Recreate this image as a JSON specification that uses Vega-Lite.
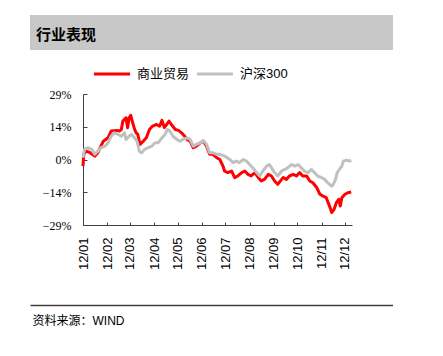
{
  "$schema": "https://vega.github.io/schema/vega-lite/v6.json",
  "background": "white",
  "padding": {"left": 30, "top": 15, "right": 0, "bottom": 0},
  "config": {
    "view": {"stroke": null},
    "axis": {"domainColor": "#404040", "tickColor": "#404040", "grid": false, "labelColor": "#000000", "titleColor": "#000000"}
  },
  "spacing": 4,
  "resolve": {"scale": {"color": "independent", "x": "independent", "y": "independent"}},
  "vconcat": [
    {
      "width": 363,
      "height": 35,
      "view": {"fill": "#c8c8c8", "stroke": null},
      "data": {"values": [{"label": "行业表现"}]},
      "mark": {"type": "text", "align": "left", "baseline": "middle", "dx": 6, "dy": 2, "font": "Noto Sans CJK SC", "fontSize": 15, "fontWeight": "bold", "color": "#000000"},
      "encoding": {
        "x": {"datum": 0, "type": "quantitative", "scale": {"domain": [0, 1]}, "axis": null},
        "text": {"field": "label"}
      }
    },
    {
      "hconcat": [
        {
          "width": 53,
          "height": 131,
          "data": {"values": []},
          "mark": "point"
        },
        {
          "width": 269,
          "height": 131,
          "data": {"values": [
            {"date": "2012-01-01", "s": "商业贸易", "v": -2.9},
            {"date": "2012-01-02", "s": "商业贸易", "v": 2.3},
            {"date": "2012-01-05", "s": "商业贸易", "v": 3.7},
            {"date": "2012-01-10", "s": "商业贸易", "v": 3.0},
            {"date": "2012-01-16", "s": "商业贸易", "v": 1.5},
            {"date": "2012-01-20", "s": "商业贸易", "v": 3.0},
            {"date": "2012-01-27", "s": "商业贸易", "v": 8.1},
            {"date": "2012-02-02", "s": "商业贸易", "v": 9.6},
            {"date": "2012-02-06", "s": "商业贸易", "v": 12.6},
            {"date": "2012-02-13", "s": "商业贸易", "v": 12.9},
            {"date": "2012-02-17", "s": "商业贸易", "v": 12.6},
            {"date": "2012-02-19", "s": "商业贸易", "v": 13.3},
            {"date": "2012-02-21", "s": "商业贸易", "v": 17.0},
            {"date": "2012-02-25", "s": "商业贸易", "v": 18.5},
            {"date": "2012-02-27", "s": "商业贸易", "v": 14.1},
            {"date": "2012-02-29", "s": "商业贸易", "v": 18.5},
            {"date": "2012-03-02", "s": "商业贸易", "v": 19.6},
            {"date": "2012-03-04", "s": "商业贸易", "v": 17.0},
            {"date": "2012-03-07", "s": "商业贸易", "v": 13.3},
            {"date": "2012-03-09", "s": "商业贸易", "v": 11.8},
            {"date": "2012-03-11", "s": "商业贸易", "v": 11.1},
            {"date": "2012-03-14", "s": "商业贸易", "v": 6.7},
            {"date": "2012-03-18", "s": "商业贸易", "v": 8.1},
            {"date": "2012-03-22", "s": "商业贸易", "v": 9.6},
            {"date": "2012-03-26", "s": "商业贸易", "v": 13.3},
            {"date": "2012-03-30", "s": "商业贸易", "v": 14.8},
            {"date": "2012-04-04", "s": "商业贸易", "v": 15.5},
            {"date": "2012-04-08", "s": "商业贸易", "v": 14.8},
            {"date": "2012-04-11", "s": "商业贸易", "v": 17.3},
            {"date": "2012-04-14", "s": "商业贸易", "v": 14.1},
            {"date": "2012-04-17", "s": "商业贸易", "v": 15.5},
            {"date": "2012-04-20", "s": "商业贸易", "v": 17.0},
            {"date": "2012-04-23", "s": "商业贸易", "v": 15.5},
            {"date": "2012-04-28", "s": "商业贸易", "v": 13.3},
            {"date": "2012-05-02", "s": "商业贸易", "v": 12.9},
            {"date": "2012-05-06", "s": "商业贸易", "v": 11.8},
            {"date": "2012-05-10", "s": "商业贸易", "v": 10.3},
            {"date": "2012-05-13", "s": "商业贸易", "v": 8.9},
            {"date": "2012-05-17", "s": "商业贸易", "v": 8.1},
            {"date": "2012-05-21", "s": "商业贸易", "v": 5.2},
            {"date": "2012-05-25", "s": "商业贸易", "v": 5.9},
            {"date": "2012-05-30", "s": "商业贸易", "v": 7.4},
            {"date": "2012-06-03", "s": "商业贸易", "v": 8.1},
            {"date": "2012-06-07", "s": "商业贸易", "v": 5.9},
            {"date": "2012-06-11", "s": "商业贸易", "v": 2.3},
            {"date": "2012-06-15", "s": "商业贸易", "v": 2.3},
            {"date": "2012-06-20", "s": "商业贸易", "v": 0.8},
            {"date": "2012-06-24", "s": "商业贸易", "v": 0.0},
            {"date": "2012-06-28", "s": "商业贸易", "v": -2.9},
            {"date": "2012-06-30", "s": "商业贸易", "v": -5.1},
            {"date": "2012-07-04", "s": "商业贸易", "v": -5.8},
            {"date": "2012-07-09", "s": "商业贸易", "v": -5.1},
            {"date": "2012-07-13", "s": "商业贸易", "v": -8.0},
            {"date": "2012-07-17", "s": "商业贸易", "v": -7.3},
            {"date": "2012-07-22", "s": "商业贸易", "v": -5.8},
            {"date": "2012-07-26", "s": "商业贸易", "v": -5.1},
            {"date": "2012-07-30", "s": "商业贸易", "v": -6.6},
            {"date": "2012-08-03", "s": "商业贸易", "v": -7.3},
            {"date": "2012-08-08", "s": "商业贸易", "v": -5.8},
            {"date": "2012-08-12", "s": "商业贸易", "v": -8.0},
            {"date": "2012-08-16", "s": "商业贸易", "v": -9.5},
            {"date": "2012-08-20", "s": "商业贸易", "v": -8.8},
            {"date": "2012-08-25", "s": "商业贸易", "v": -6.6},
            {"date": "2012-08-29", "s": "商业贸易", "v": -7.3},
            {"date": "2012-09-02", "s": "商业贸易", "v": -9.5},
            {"date": "2012-09-06", "s": "商业贸易", "v": -11.0},
            {"date": "2012-09-11", "s": "商业贸易", "v": -8.8},
            {"date": "2012-09-13", "s": "商业贸易", "v": -8.0},
            {"date": "2012-09-17", "s": "商业贸易", "v": -8.8},
            {"date": "2012-09-21", "s": "商业贸易", "v": -7.3},
            {"date": "2012-09-26", "s": "商业贸易", "v": -6.6},
            {"date": "2012-09-30", "s": "商业贸易", "v": -7.3},
            {"date": "2012-10-04", "s": "商业贸易", "v": -5.8},
            {"date": "2012-10-08", "s": "商业贸易", "v": -7.3},
            {"date": "2012-10-13", "s": "商业贸易", "v": -7.3},
            {"date": "2012-10-17", "s": "商业贸易", "v": -9.5},
            {"date": "2012-10-21", "s": "商业贸易", "v": -10.3},
            {"date": "2012-10-26", "s": "商业贸易", "v": -12.5},
            {"date": "2012-10-30", "s": "商业贸易", "v": -15.4},
            {"date": "2012-11-03", "s": "商业贸易", "v": -16.2},
            {"date": "2012-11-07", "s": "商业贸易", "v": -16.9},
            {"date": "2012-11-12", "s": "商业贸易", "v": -21.3},
            {"date": "2012-11-14", "s": "商业贸易", "v": -23.5},
            {"date": "2012-11-17", "s": "商业贸易", "v": -22.1},
            {"date": "2012-11-20", "s": "商业贸易", "v": -19.1},
            {"date": "2012-11-23", "s": "商业贸易", "v": -17.6},
            {"date": "2012-11-25", "s": "商业贸易", "v": -20.6},
            {"date": "2012-11-27", "s": "商业贸易", "v": -16.9},
            {"date": "2012-12-01", "s": "商业贸易", "v": -15.4},
            {"date": "2012-12-05", "s": "商业贸易", "v": -14.7},
            {"date": "2012-12-09", "s": "商业贸易", "v": -14.4},
            {"date": "2012-01-01", "s": "沪深300", "v": 0.8},
            {"date": "2012-01-03", "s": "沪深300", "v": 4.5},
            {"date": "2012-01-07", "s": "沪深300", "v": 5.2},
            {"date": "2012-01-12", "s": "沪深300", "v": 4.5},
            {"date": "2012-01-16", "s": "沪深300", "v": 2.3},
            {"date": "2012-01-20", "s": "沪深300", "v": 3.7},
            {"date": "2012-01-24", "s": "沪深300", "v": 5.2},
            {"date": "2012-01-29", "s": "沪深300", "v": 5.9},
            {"date": "2012-02-02", "s": "沪深300", "v": 7.4},
            {"date": "2012-02-06", "s": "沪深300", "v": 10.3},
            {"date": "2012-02-10", "s": "沪深300", "v": 11.8},
            {"date": "2012-02-15", "s": "沪深300", "v": 11.1},
            {"date": "2012-02-19", "s": "沪深300", "v": 10.3},
            {"date": "2012-02-23", "s": "沪深300", "v": 11.8},
            {"date": "2012-02-25", "s": "沪深300", "v": 8.9},
            {"date": "2012-02-29", "s": "沪深300", "v": 10.3},
            {"date": "2012-03-03", "s": "沪深300", "v": 11.1},
            {"date": "2012-03-07", "s": "沪深300", "v": 9.6},
            {"date": "2012-03-10", "s": "沪深300", "v": 8.1},
            {"date": "2012-03-13", "s": "沪深300", "v": 3.7},
            {"date": "2012-03-16", "s": "沪深300", "v": 3.0},
            {"date": "2012-03-20", "s": "沪深300", "v": 4.5},
            {"date": "2012-03-24", "s": "沪深300", "v": 5.2},
            {"date": "2012-03-29", "s": "沪深300", "v": 5.9},
            {"date": "2012-04-02", "s": "沪深300", "v": 7.4},
            {"date": "2012-04-06", "s": "沪深300", "v": 7.4},
            {"date": "2012-04-11", "s": "沪深300", "v": 9.6},
            {"date": "2012-04-15", "s": "沪深300", "v": 11.1},
            {"date": "2012-04-18", "s": "沪深300", "v": 13.3},
            {"date": "2012-04-21", "s": "沪深300", "v": 12.6},
            {"date": "2012-04-25", "s": "沪深300", "v": 10.3},
            {"date": "2012-04-30", "s": "沪深300", "v": 8.9},
            {"date": "2012-05-04", "s": "沪深300", "v": 8.1},
            {"date": "2012-05-08", "s": "沪深300", "v": 8.9},
            {"date": "2012-05-13", "s": "沪深300", "v": 9.6},
            {"date": "2012-05-17", "s": "沪深300", "v": 8.9},
            {"date": "2012-05-21", "s": "沪深300", "v": 5.9},
            {"date": "2012-05-25", "s": "沪深300", "v": 6.7},
            {"date": "2012-05-30", "s": "沪深300", "v": 7.4},
            {"date": "2012-06-03", "s": "沪深300", "v": 8.4},
            {"date": "2012-06-07", "s": "沪深300", "v": 6.7},
            {"date": "2012-06-11", "s": "沪深300", "v": 3.0},
            {"date": "2012-06-15", "s": "沪深300", "v": 3.0},
            {"date": "2012-06-20", "s": "沪深300", "v": 2.3},
            {"date": "2012-06-24", "s": "沪深300", "v": 2.3},
            {"date": "2012-06-30", "s": "沪深300", "v": 1.5},
            {"date": "2012-07-07", "s": "沪深300", "v": 0.0},
            {"date": "2012-07-11", "s": "沪深300", "v": -1.4},
            {"date": "2012-07-15", "s": "沪深300", "v": -0.7},
            {"date": "2012-07-19", "s": "沪深300", "v": -1.4},
            {"date": "2012-07-24", "s": "沪深300", "v": 0.0},
            {"date": "2012-07-28", "s": "沪深300", "v": -0.7},
            {"date": "2012-08-01", "s": "沪深300", "v": -2.2},
            {"date": "2012-08-05", "s": "沪深300", "v": -3.6},
            {"date": "2012-08-10", "s": "沪深300", "v": -5.8},
            {"date": "2012-08-14", "s": "沪深300", "v": -7.3},
            {"date": "2012-08-18", "s": "沪深300", "v": -5.1},
            {"date": "2012-08-23", "s": "沪深300", "v": -2.9},
            {"date": "2012-08-26", "s": "沪深300", "v": -2.2},
            {"date": "2012-08-29", "s": "沪深300", "v": -3.6},
            {"date": "2012-09-02", "s": "沪深300", "v": -5.8},
            {"date": "2012-09-06", "s": "沪深300", "v": -7.3},
            {"date": "2012-09-11", "s": "沪深300", "v": -5.1},
            {"date": "2012-09-15", "s": "沪深300", "v": -4.4},
            {"date": "2012-09-19", "s": "沪深300", "v": -3.6},
            {"date": "2012-09-24", "s": "沪深300", "v": -2.2},
            {"date": "2012-09-28", "s": "沪深300", "v": -2.9},
            {"date": "2012-10-02", "s": "沪深300", "v": -2.2},
            {"date": "2012-10-06", "s": "沪深300", "v": -3.6},
            {"date": "2012-10-10", "s": "沪深300", "v": -5.1},
            {"date": "2012-10-15", "s": "沪深300", "v": -5.8},
            {"date": "2012-10-19", "s": "沪深300", "v": -4.4},
            {"date": "2012-10-23", "s": "沪深300", "v": -5.8},
            {"date": "2012-10-27", "s": "沪深300", "v": -7.3},
            {"date": "2012-11-01", "s": "沪深300", "v": -8.0},
            {"date": "2012-11-05", "s": "沪深300", "v": -8.8},
            {"date": "2012-11-09", "s": "沪深300", "v": -10.3},
            {"date": "2012-11-14", "s": "沪深300", "v": -11.8},
            {"date": "2012-11-16", "s": "沪深300", "v": -11.0},
            {"date": "2012-11-19", "s": "沪深300", "v": -8.8},
            {"date": "2012-11-21", "s": "沪深300", "v": -5.8},
            {"date": "2012-11-24", "s": "沪深300", "v": -4.4},
            {"date": "2012-11-27", "s": "沪深300", "v": -2.9},
            {"date": "2012-11-29", "s": "沪深300", "v": -0.7},
            {"date": "2012-12-03", "s": "沪深300", "v": -0.3},
            {"date": "2012-12-07", "s": "沪深300", "v": -0.7},
            {"date": "2012-12-09", "s": "沪深300", "v": -0.4}
          ]},
          "mark": {"type": "line", "strokeWidth": 3, "strokeJoin": "round"},
          "encoding": {
            "x": {
              "field": "date",
              "type": "temporal",
              "scale": {"type": "utc", "domain": [{"year": 2012, "month": 1, "date": 1, "utc": true}, {"year": 2012, "month": 12, "date": 10, "utc": true}]},
              "axis": {
                "title": null,
                "values": [
                  {"year": 2012, "month": 1, "date": 1, "utc": true},
                  {"year": 2012, "month": 2, "date": 1, "utc": true},
                  {"year": 2012, "month": 3, "date": 1, "utc": true},
                  {"year": 2012, "month": 4, "date": 1, "utc": true},
                  {"year": 2012, "month": 5, "date": 1, "utc": true},
                  {"year": 2012, "month": 6, "date": 1, "utc": true},
                  {"year": 2012, "month": 7, "date": 1, "utc": true},
                  {"year": 2012, "month": 8, "date": 1, "utc": true},
                  {"year": 2012, "month": 9, "date": 1, "utc": true},
                  {"year": 2012, "month": 10, "date": 1, "utc": true},
                  {"year": 2012, "month": 11, "date": 1, "utc": true},
                  {"year": 2012, "month": 12, "date": 1, "utc": true}
                ],
                "format": "%y/%m",
                "labelAngle": 270,
                "labelAlign": "right",
                "labelBaseline": "middle",
                "labelFont": "Liberation Sans",
                "labelFontSize": 13,
                "labelPadding": 15,
                "tickSize": -3,
                "labelFlush": false,
                "labelOverlap": false
              }
            },
            "y": {
              "field": "v",
              "type": "quantitative",
              "scale": {"domain": [-29, 29], "nice": false, "zero": false},
              "axis": {
                "title": null,
                "values": [-29, -14.5, 0, 14.5, 29],
                "labelExpr": "datum.value > 20 ? '29%' : datum.value > 10 ? '14%' : datum.value > -10 ? '0%' : datum.value > -20 ? '−14%' : '−29%'",
                "labelFont": "Liberation Serif",
                "labelFontSize": 12,
                "labelPadding": 16,
                "tickSize": -4,
                "labelFlush": false,
                "labelOverlap": false
              }
            },
            "color": {
              "field": "s",
              "type": "nominal",
              "scale": {"domain": ["商业贸易", "沪深300"], "range": ["#ff0000", "#c0c0c0"]},
              "legend": {
                "orient": "none",
                "legendX": 9,
                "legendY": -40,
                "direction": "horizontal",
                "title": null,
                "padding": 0,
                "symbolType": "stroke",
                "symbolSize": 1300,
                "symbolStrokeWidth": 3,
                "labelFont": "Liberation Sans, Noto Sans CJK SC",
                "labelFontSize": 13,
                "labelColor": "#000000",
                "labelOffset": 5,
                "columnPadding": 0
              }
            }
          }
        }
      ],
      "bounds": "flush",
      "spacing": 0,
      "resolve": {"scale": {"color": "independent", "x": "independent", "y": "independent"}}
    },
    {
      "width": 363,
      "height": 31,
      "data": {"values": [{"t": ""}]},
      "mark": {"type": "text"},
      "encoding": {
        "x": {
          "datum": 0,
          "type": "quantitative",
          "scale": {"domain": [0, 1]},
          "axis": {
            "orient": "bottom",
            "domain": true,
            "domainColor": "#404040",
            "domainWidth": 1.5,
            "ticks": false,
            "labels": false,
            "grid": false,
            "title": "资料来源：WIND",
            "titleAnchor": "start",
            "titleAlign": "left",
            "titleBaseline": "top",
            "titlePadding": 10,
            "titleX": 2,
            "titleFont": "Liberation Sans, Noto Sans CJK SC",
            "titleFontSize": 12,
            "titleFontWeight": "normal",
            "titleColor": "#000000"
          }
        },
        "text": {"field": "t"}
      }
    }
  ]
}
